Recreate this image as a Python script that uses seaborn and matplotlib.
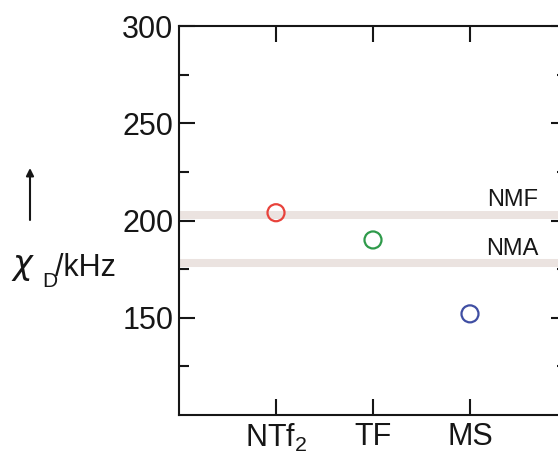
import matplotlib
matplotlib.use("Agg")
import matplotlib.pyplot as plt
import seaborn as sns
import pandas as pd
from matplotlib.ticker import FixedLocator

# Quadrupole coupling constants per anion
anions = ["NTf$_2$", "TF", "MS"]
chi_d = [204, 190, 152]
marker_colors = ["#e8423b", "#2e9a4a", "#3f4ea3"]

# Reference solvents drawn as horizontal bands
ref_names = ["NMF", "NMA"]
ref_values = [203, 178]
band_color = "#ebe3e0"

ink = "#161616"

sns.set_style("ticks")
plt.rcParams["font.family"] = ["Liberation Sans", "DejaVu Sans"]
plt.rcParams["mathtext.fontset"] = "custom"
plt.rcParams["mathtext.rm"] = "Liberation Sans"
plt.rcParams["mathtext.it"] = "Liberation Sans:italic"
plt.rcParams["text.color"] = ink

W, H = 558, 458
fig = plt.figure(figsize=(W / 100, H / 100), dpi=100)
ax = fig.add_axes([0.3208, 0.0939, 0.6953, 0.8493])

for val in ref_values:
    ax.axhline(val, color=band_color, lw=5.8, zorder=1, solid_capstyle="butt")

df = pd.DataFrame({"anion": anions, "chi": chi_d})
sns.scatterplot(data=df, x="anion", y="chi", hue="anion",
                palette=marker_colors, s=150, linewidth=1.6,
                legend=False, ax=ax, zorder=3)
pts = ax.collections[-1]
pts.set_facecolor("none")
pts.set_edgecolor(marker_colors)

for name, val in zip(ref_names, ref_values):
    ax.text(2.44, val + 4.5, name, ha="center", va="baseline", fontsize=17)

ax.set_xlim(-1, 3)
ax.set_ylim(100, 300)
ax.set_xticks(range(len(anions)))
ax.set_xticklabels(anions)
ax.yaxis.set_major_locator(FixedLocator([150, 200, 250, 300]))
ax.yaxis.set_minor_locator(FixedLocator([125, 175, 225, 275]))
ax.xaxis.set_minor_locator(FixedLocator([]))

for side in ["left", "right", "top", "bottom"]:
    ax.spines[side].set_visible(True)
    ax.spines[side].set_linewidth(1.5)
    ax.spines[side].set_color(ink)

ax.tick_params(axis="both", which="major", direction="in", length=11.5,
               width=1.5, color=ink, labelcolor=ink, labelsize=22,
               top=True, right=True)
ax.tick_params(axis="both", which="minor", direction="in", length=7,
               width=1.5, color=ink, right=True)
ax.tick_params(axis="x", pad=5)
ax.tick_params(axis="y", pad=4)
ax.set_xlabel("")
ax.set_ylabel("")

# Axis quantity written horizontally, with a lowered "D" index
fig.text(12 / W, 1 - 274 / H, "χ", fontsize=24, ha="left", va="baseline",
         family=["DejaVu Sans"], style="oblique")
fig.text(42 / W, 1 - 287 / H, "D", fontsize=15, ha="left", va="baseline")
fig.text(55 / W, 1 - 276 / H, "/kHz", fontsize=22, ha="left", va="baseline")

ax.annotate("", xy=(30 / W, 1 - 168 / H), xytext=(30 / W, 1 - 220 / H),
            xycoords="figure fraction", textcoords="figure fraction",
            arrowprops=dict(arrowstyle="-|>", lw=1.5, color=ink,
                            mutation_scale=11, shrinkA=0, shrinkB=0),
            annotation_clip=False)

fig.savefig("out.png", dpi=100)
